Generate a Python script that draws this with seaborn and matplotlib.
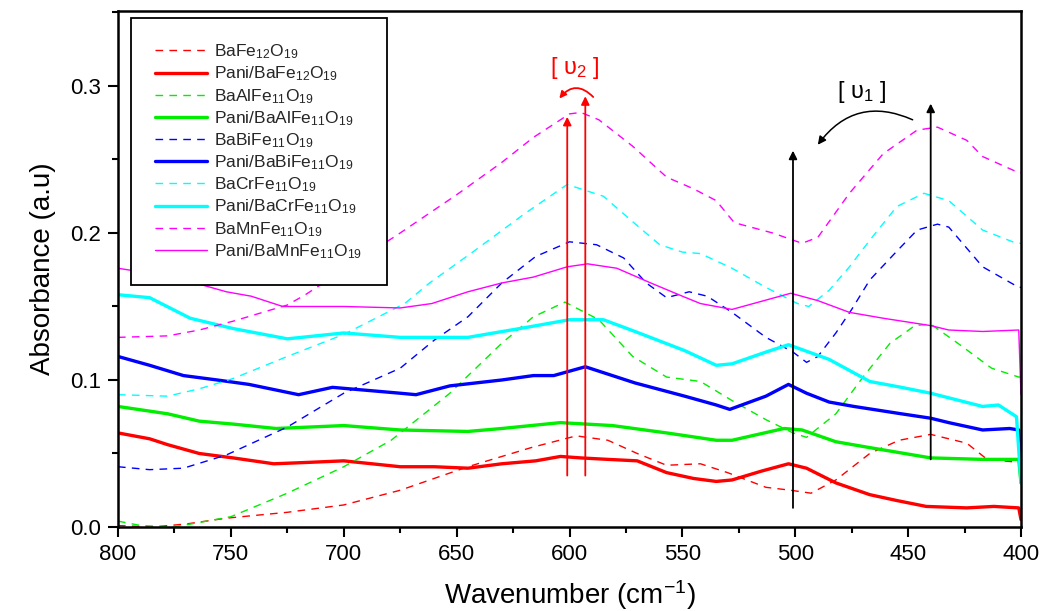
import matplotlib
matplotlib.use("Agg")
import matplotlib.pyplot as plt
import seaborn as sns
import numpy as np
from matplotlib.ticker import MultipleLocator, FormatStrFormatter

# ---------------- data ----------------
x_bafe = [800, 785, 770, 752, 725, 700, 675, 645, 617, 597, 583, 570, 557, 542, 530, 513, 502, 493, 482, 467, 454, 440, 424, 415, 401, 400]
y_bafe = [0.001, 0.000, 0.002, 0.006, 0.010, 0.015, 0.025, 0.041, 0.054, 0.062, 0.059, 0.050, 0.042, 0.043, 0.037, 0.027, 0.025, 0.023, 0.032, 0.050, 0.059, 0.063, 0.057, 0.046, 0.044, 0.044]

x_pani_bafe = [800, 786, 778, 764, 749, 731, 715, 700, 675, 660, 645, 630, 615, 604, 595, 583, 570, 557, 545, 535, 528, 515, 503, 495, 482, 467, 455, 442, 424, 412, 401, 400]
y_pani_bafe = [0.064, 0.060, 0.056, 0.050, 0.047, 0.043, 0.044, 0.045, 0.041, 0.041, 0.040, 0.043, 0.045, 0.048, 0.047, 0.046, 0.045, 0.037, 0.033, 0.031, 0.032, 0.038, 0.043, 0.040, 0.030, 0.022, 0.018, 0.014, 0.013, 0.014, 0.013, 0.005]

x_baal = [800, 790, 775, 750, 725, 700, 679, 653, 630, 616, 602, 587, 572, 557, 542, 528, 513, 501, 495, 482, 470, 458, 447, 440, 428, 413, 401, 400]
y_baal = [0.004, 0.001, 0.000, 0.007, 0.023, 0.041, 0.059, 0.091, 0.125, 0.143, 0.153, 0.141, 0.116, 0.102, 0.099, 0.086, 0.073, 0.064, 0.061, 0.077, 0.102, 0.125, 0.137, 0.138, 0.125, 0.108, 0.102, 0.102]

x_pani_baal = [800, 778, 764, 749, 730, 700, 675, 645, 630, 604, 581, 557, 535, 528, 505, 497, 482, 467, 440, 417, 401, 400]
y_pani_baal = [0.082, 0.077, 0.072, 0.070, 0.067, 0.069, 0.066, 0.065, 0.067, 0.071, 0.069, 0.064, 0.059, 0.059, 0.067, 0.066, 0.058, 0.054, 0.047, 0.046, 0.046, 0.030]

x_babi = [800, 786, 771, 752, 725, 700, 675, 660, 645, 630, 615, 600, 588, 576, 566, 557, 547, 539, 528, 513, 501, 495, 490, 482, 475, 467, 456, 446, 437, 432, 417, 401, 400]
y_babi = [0.041, 0.039, 0.040, 0.049, 0.068, 0.091, 0.108, 0.127, 0.143, 0.166, 0.184, 0.194, 0.192, 0.183, 0.166, 0.156, 0.160, 0.157, 0.146, 0.129, 0.119, 0.112, 0.116, 0.132, 0.148, 0.168, 0.186, 0.202, 0.206, 0.204, 0.177, 0.163, 0.163]

x_pani_babi = [800, 786, 771, 756, 742, 720, 705, 690, 675, 668, 653, 630, 616, 607, 593, 571, 549, 535, 529, 513, 503, 495, 485, 474, 453, 440, 432, 417, 405, 401, 400]
y_pani_babi = [0.116, 0.110, 0.103, 0.100, 0.097, 0.090, 0.095, 0.093, 0.091, 0.090, 0.096, 0.100, 0.103, 0.103, 0.109, 0.098, 0.089, 0.083, 0.080, 0.089, 0.097, 0.091, 0.085, 0.082, 0.077, 0.074, 0.071, 0.066, 0.067, 0.066, 0.040]

x_bacr = [800, 778, 764, 749, 725, 700, 673, 662, 642, 620, 601, 585, 570, 560, 550, 542, 528, 513, 499, 494, 485, 476, 466, 455, 443, 432, 417, 402, 400]
y_bacr = [0.090, 0.089, 0.094, 0.101, 0.116, 0.131, 0.152, 0.166, 0.188, 0.213, 0.233, 0.225, 0.205, 0.192, 0.187, 0.186, 0.176, 0.163, 0.152, 0.150, 0.161, 0.177, 0.197, 0.218, 0.227, 0.222, 0.202, 0.193, 0.193]

x_pani_bacr = [800, 786, 768, 749, 725, 700, 675, 645, 622, 600, 585, 571, 549, 535, 528, 513, 503, 485, 467, 453, 440, 417, 410, 402, 400]
y_pani_bacr = [0.158, 0.156, 0.142, 0.135, 0.128, 0.132, 0.129, 0.129, 0.135, 0.141, 0.141, 0.133, 0.120, 0.110, 0.111, 0.119, 0.124, 0.114, 0.099, 0.095, 0.091, 0.082, 0.083, 0.075, 0.030]

x_bamn = [800, 778, 764, 749, 725, 717, 700, 675, 650, 630, 616, 600, 595, 587, 572, 557, 545, 535, 527, 510, 497, 490, 476, 461, 446, 437, 424, 417, 401, 400]
y_bamn = [0.129, 0.130, 0.134, 0.140, 0.151, 0.158, 0.175, 0.200, 0.226, 0.248, 0.265, 0.281, 0.282, 0.277, 0.259, 0.238, 0.230, 0.222, 0.207, 0.200, 0.193, 0.197, 0.227, 0.254, 0.270, 0.272, 0.263, 0.252, 0.241, 0.241]

x_pani_bamn = [800, 775, 752, 741, 727, 700, 675, 661, 645, 630, 616, 601, 592, 579, 564, 550, 542, 528, 502, 490, 476, 461, 440, 432, 417, 401, 400]
y_pani_bamn = [0.176, 0.170, 0.160, 0.157, 0.150, 0.150, 0.149, 0.152, 0.160, 0.166, 0.170, 0.177, 0.179, 0.176, 0.166, 0.157, 0.152, 0.148, 0.159, 0.154, 0.146, 0.142, 0.137, 0.134, 0.133, 0.134, 0.090]

labels = [
    "BaFe$_{12}$O$_{19}$", "Pani/BaFe$_{12}$O$_{19}$",
    "BaAlFe$_{11}$O$_{19}$", "Pani/BaAlFe$_{11}$O$_{19}$",
    "BaBiFe$_{11}$O$_{19}$", "Pani/BaBiFe$_{11}$O$_{19}$",
    "BaCrFe$_{11}$O$_{19}$", "Pani/BaCrFe$_{11}$O$_{19}$",
    "BaMnFe$_{11}$O$_{19}$", "Pani/BaMnFe$_{11}$O$_{19}$",
]
colors = ["#ff0000", "#ff0000", "#00ee00", "#00ee00", "#0000ff", "#0000ff",
          "#00ffff", "#00ffff", "#ff00ff", "#ff00ff"]
xs = [x_bafe, x_pani_bafe, x_baal, x_pani_baal, x_babi, x_pani_babi,
      x_bacr, x_pani_bacr, x_bamn, x_pani_bamn]
ys = [y_bafe, y_pani_bafe, y_baal, y_pani_baal, y_babi, y_pani_babi,
      y_bacr, y_pani_bacr, y_bamn, y_pani_bamn]

# ---------------- style ----------------
sns.set_theme(style="ticks")
plt.rcParams["font.family"] = ["Liberation Sans", "DejaVu Sans"]
plt.rcParams["mathtext.fontset"] = "custom"
plt.rcParams["mathtext.rm"] = "Liberation Sans"
plt.rcParams["mathtext.it"] = "Liberation Sans:italic"
plt.rcParams["mathtext.bf"] = "Liberation Sans:bold"

fig = plt.figure(figsize=(10.46, 6.11), dpi=100)
ax = fig.add_axes([118 / 1046, 1 - 527 / 611, (1021 - 118) / 1046, (527 - 11) / 611])

dash = (0, (5.5, 4.5))
for i, (x, y, lab, c) in enumerate(zip(xs, ys, labels, colors)):
    solid = (i % 2 == 1)
    if solid:
        lw = 1.0 if i == 9 else 2.4
        ls = "-"
    else:
        lw = 1.0
        ls = dash
    sns.lineplot(x=x, y=y, ax=ax, color=c, lw=lw, linestyle=ls, label=lab,
                 sort=False, estimator=None)

ax.set_xlim(800, 400)
ax.set_ylim(0, 0.351)
ax.xaxis.set_major_locator(MultipleLocator(50))
ax.xaxis.set_minor_locator(MultipleLocator(25))
ax.yaxis.set_major_locator(MultipleLocator(0.1))
ax.yaxis.set_minor_locator(MultipleLocator(0.05))
ax.yaxis.set_major_formatter(FormatStrFormatter("%.1f"))
ax.tick_params(axis="both", which="major", direction="out", length=7, width=1.5,
               labelsize=16, color="black", labelcolor="black", pad=5)
ax.tick_params(axis="both", which="minor", direction="out", length=4, width=1.5,
               color="black")
ax.tick_params(top=False, right=False, which="both")
for s in ax.spines.values():
    s.set_visible(True)
    s.set_linewidth(1.8)
    s.set_color("black")

ax.set_xlabel("Wavenumber (cm$^{-1}$)", fontsize=20, labelpad=10, color="black")
ax.set_ylabel("Absorbance (a.u)", fontsize=20, labelpad=10, color="black")

leg = ax.legend(loc="upper left", bbox_to_anchor=(0.0144, 0.986), borderaxespad=0,
                fontsize=12.5, frameon=True, fancybox=False, framealpha=1,
                edgecolor="black", handlelength=3.0, handletextpad=0.4,
                labelspacing=0.2, borderpad=1.4)
leg.get_frame().set_linewidth(1.3)

# ---------------- annotations ----------------
red_arrow = dict(arrowstyle="-|>", color="#ff0000", lw=1.3, mutation_scale=12,
                 shrinkA=0, shrinkB=0)
ax.annotate("", xy=(601, 0.279), xytext=(601, 0.035), arrowprops=red_arrow)
ax.annotate("", xy=(593, 0.293), xytext=(593, 0.035), arrowprops=red_arrow)
ax.annotate("", xy=(604.5, 0.2915), xytext=(589.5, 0.2925),
            arrowprops=dict(arrowstyle="-|>", color="#ff0000", lw=1.3,
                            mutation_scale=10, shrinkA=0, shrinkB=0,
                            connectionstyle="arc3,rad=0.55"))
ax.text(597.5, 0.312, "[ υ$_2$ ]", color="#ff0000", fontsize=17,
        ha="center", va="center")

blk_arrow = dict(arrowstyle="-|>", color="black", lw=1.3, mutation_scale=12,
                 shrinkA=0, shrinkB=0)
ax.annotate("", xy=(501, 0.256), xytext=(501, 0.013), arrowprops=blk_arrow)
ax.annotate("", xy=(440, 0.288), xytext=(440, 0.046), arrowprops=blk_arrow)
ax.annotate("", xy=(490, 0.260), xytext=(448, 0.277),
            arrowprops=dict(arrowstyle="-|>", color="black", lw=1.1,
                            mutation_scale=12, shrinkA=0, shrinkB=0,
                            connectionstyle="arc3,rad=0.4"))
ax.text(470.5, 0.296, "[ υ$_1$ ]", color="black", fontsize=17,
        ha="center", va="center")

fig.savefig("out.png", dpi=100)
